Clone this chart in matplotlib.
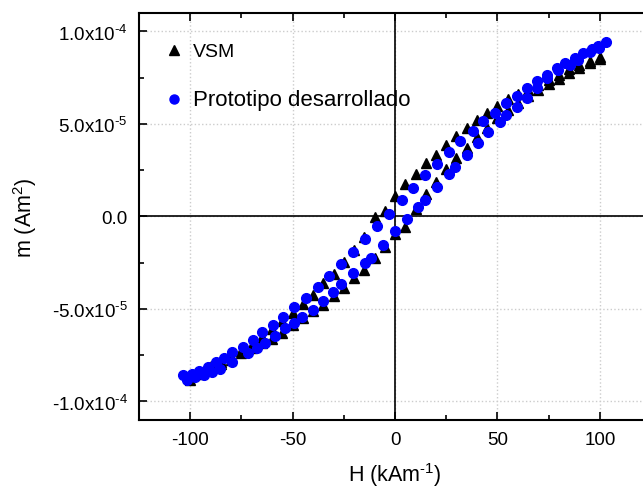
import numpy as np
import matplotlib
matplotlib.use('Agg')
import matplotlib.pyplot as plt
from matplotlib.ticker import MultipleLocator, FuncFormatter
from matplotlib.lines import Line2D

plt.rcParams['font.family'] = ['Liberation Sans', 'DejaVu Sans']
plt.rcParams['mathtext.fontset'] = 'custom'
plt.rcParams['mathtext.rm'] = 'Liberation Sans'
plt.rcParams['mathtext.it'] = 'Liberation Sans:italic'
plt.rcParams['axes.unicode_minus'] = False

# VSM loop, field in kA/m, moment in 1e-5 Am^2
vsm_H_down = [100, 95, 90, 85, 80, 75, 70, 65, 60, 55, 50, 45, 40, 35, 30, 25, 20, 15, 10, 5,
              0, -5, -10, -15, -20, -25, -30, -35, -40, -45, -50, -55, -60, -65, -70, -75,
              -80, -85, -90, -95, -100]
vsm_m_down = [8.6, 8.42, 8.18, 7.95, 7.64, 7.37, 7.1, 6.83, 6.6, 6.35, 5.95, 5.57, 5.2, 4.76,
              4.36, 3.85, 3.35, 2.9, 2.32, 1.78, 1.12, 0.27, -0.05, -1.1, -1.82, -2.45, -3.13,
              -3.6, -4.25, -4.74, -5.24, -5.66, -6.1, -6.5, -6.95, -7.25, -7.55, -7.85, -8.1,
              -8.4, -8.7]
vsm_H_up = [-100, -95, -90, -85, -80, -75, -70, -65, -60, -55, -50, -45, -40, -35, -30, -25,
            -20, -15, -10, -5, 0, 5, 10, 15, 20, 25, 30, 35, 40, 45, 50, 55, 60, 65, 70, 75,
            80, 85, 90, 95, 100]
vsm_m_up = [-8.85, -8.5, -8.22, -8.0, -7.75, -7.4, -7.1, -6.85, -6.6, -6.3, -5.85, -5.5, -5.1,
            -4.76, -4.32, -3.85, -3.35, -2.88, -2.25, -1.64, -0.95, -0.56, 0.43, 1.19, 1.87,
            2.55, 3.15, 3.68, 4.3, 4.76, 5.3, 5.75, 6.15, 6.5, 6.85, 7.15, 7.45, 7.75, 8.0,
            8.3, 8.5]

# prototype loop
proto_H_down = [103, 99.2, 96, 91.9, 87.8, 82.9, 78.9, 74, 69.1, 64.2, 59.4, 54.1, 48.8, 43.1,
                37.9, 31.7, 26.5, 20.7, 14.6, 8.6, 3.3, -2.9, -8.6, -14.6, -20.6, -26.3, -32,
                -37.4, -43.4, -49.3, -54.5, -59.4, -65, -69.4, -74.3, -79.7, -83.7, -87.3,
                -91.5, -95.5, -99.2, -103.3]
proto_m_down = [9.44, 9.23, 9.04, 8.81, 8.54, 8.27, 8.0, 7.67, 7.31, 6.95, 6.52, 6.11, 5.62,
                5.15, 4.61, 4.07, 3.5, 2.86, 2.23, 1.55, 0.88, 0.16, -0.5, -1.23, -1.91, -2.58,
                -3.21, -3.8, -4.4, -4.88, -5.42, -5.84, -6.27, -6.69, -7.04, -7.35, -7.64,
                -7.89, -8.12, -8.36, -8.49, -8.58]
proto_H_up = [-101.6, -97.5, -93.5, -89.5, -85.4, -79.5, -72, -67.5, -63.4, -58.5, -53.7,
              -49.5, -45.5, -40.2, -35, -30.5, -26.3, -20.6, -14.6, -11.7, -5.7, 0, 5.7, 11.4,
              14.6, 20.7, 26.5, 29.3, 35.3, 40.6, 45.5, 51.2, 54.1, 59.4, 64.2, 69.1, 74.3,
              79.7, 85.4, 89.4, 95.1, 99.7]
proto_m_up = [-8.85, -8.7, -8.58, -8.4, -8.22, -7.85, -7.4, -7.12, -6.86, -6.45, -6.05, -5.75,
              -5.42, -5.06, -4.58, -4.1, -3.66, -3.08, -2.54, -2.22, -1.55, -0.8, -0.11, 0.52,
              0.88, 1.6, 2.32, 2.69, 3.35, 3.95, 4.58, 5.12, 5.48, 5.93, 6.42, 6.92, 7.46,
              7.91, 8.18, 8.45, 8.9, 9.12]

vsm_H = np.array(vsm_H_down + vsm_H_up)
vsm_m = np.array(vsm_m_down + vsm_m_up) * 1e-5
proto_H = np.array(proto_H_down + proto_H_up)
proto_m = np.array(proto_m_down + proto_m_up) * 1e-5

fig = plt.figure(figsize=(6.43, 4.89), dpi=100)
ax = fig.add_axes([0.2162, 0.1391, 0.7963, 0.8323])

ax.axhline(0, color='black', lw=1.2, zorder=1)
ax.axvline(0, color='black', lw=1.2, zorder=1)

ax.plot(vsm_H, vsm_m, ls='none', marker='^', ms=7, color='black', zorder=3)
ax.plot(proto_H, proto_m, ls='none', marker='o', ms=7, color='#0000ff', mec='#0000ff', zorder=3)

ax.set_xlim(-125, 125)
ax.set_ylim(-1.1e-4, 1.1e-4)
ax.xaxis.set_major_locator(MultipleLocator(50))
ax.xaxis.set_minor_locator(MultipleLocator(25))
ax.yaxis.set_major_locator(MultipleLocator(5e-5))
ax.yaxis.set_minor_locator(MultipleLocator(2.5e-5))


def sci_fmt(v, pos):
    if abs(v) < 1e-12:
        return '0.0'
    exp = int(np.floor(np.log10(abs(v))))
    mant = v / 10**exp
    # plain hyphen in the exponent
    return '%.1fx10$^{\\text{%d}}$' % (mant, exp)


ax.yaxis.set_major_formatter(FuncFormatter(sci_fmt))
ax.grid(True, which='major', ls=':', color='#cccccc', lw=1.0)
ax.set_axisbelow(True)

ax.tick_params(which='both', direction='in', top=True, right=True, width=1.2, labelsize=13.5)
ax.tick_params(which='major', length=6, pad=8)
ax.tick_params(which='minor', length=3.5)
for sp in ax.spines.values():
    sp.set_linewidth(1.5)

ax.set_xlabel('H (kAm$^{\\text{-1}}$)', fontsize=15.5, labelpad=9)
ax.set_ylabel('m (Am$^{2}$)', fontsize=15.5, labelpad=9)

handles = [Line2D([], [], ls='none', marker='^', ms=6.5, color='black'),
           Line2D([], [], ls='none', marker='o', ms=6.5, color='#0000ff')]
leg = ax.legend(handles, ['VSM', 'Prototipo desarrollado'], loc='upper left',
                bbox_to_anchor=(0.015, 0.97), frameon=False, handlelength=1.0,
                handletextpad=0.5, labelspacing=1.5, fontsize=14)
leg.get_texts()[1].set_fontsize(16)

fig.savefig('out.png', dpi=100)
